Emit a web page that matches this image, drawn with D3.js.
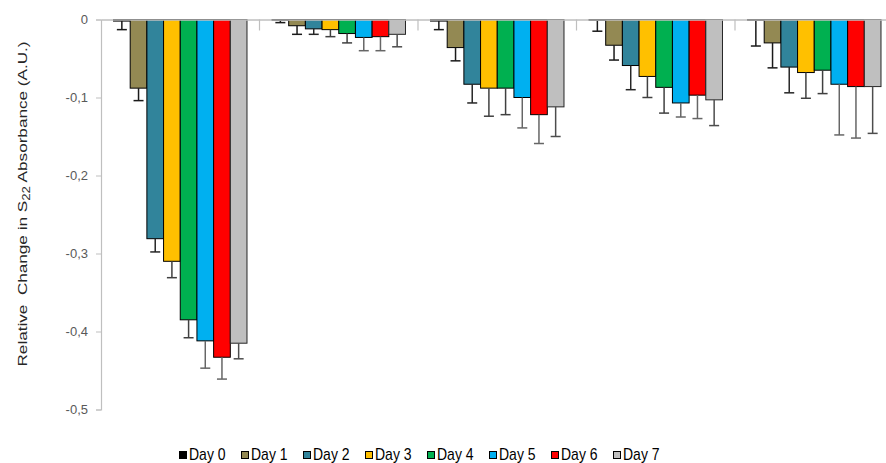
<!DOCTYPE html>
<html>
<head>
<meta charset="utf-8">
<script src="https://cdn.jsdelivr.net/npm/d3@7"></script>
<style>
  html, body { margin: 0; padding: 0; background: #fff; }
  svg { display: block; font-family: "Liberation Sans", Arial, sans-serif; }
</style>
</head>
<body>
<svg id="chart" width="886" height="463"></svg>
<script>
// Sample groups (unlabelled on the axis) and measurement days
const groups = ["G1", "G2", "G3", "G4", "G5"];
const days = ["Day 0", "Day 1", "Day 2", "Day 3", "Day 4", "Day 5", "Day 6", "Day 7"];
const dayColors = ["#000000", "#938953", "#31849B", "#FFC000", "#00B050", "#00B0F0", "#FF0000", "#BFBFBF"];

// Mean relative change per group, one array per day
const day0 = [-0.002, -0.001, -0.002, -0.001, -0.001];
const day1 = [-0.088, -0.008, -0.036, -0.033, -0.030];
const day2 = [-0.281, -0.012, -0.083, -0.059, -0.061];
const day3 = [-0.310, -0.013, -0.088, -0.073, -0.068];
const day4 = [-0.385, -0.018, -0.088, -0.087, -0.065];
const day5 = [-0.412, -0.023, -0.100, -0.107, -0.083];
const day6 = [-0.433, -0.022, -0.122, -0.097, -0.086];
const day7 = [-0.415, -0.019, -0.112, -0.103, -0.086];

// Standard deviation per group, one array per day
const err0 = [0.011, 0.003, 0.011, 0.014, 0.033];
const err1 = [0.016, 0.011, 0.017, 0.019, 0.032];
const err2 = [0.017, 0.007, 0.024, 0.031, 0.033];
const err3 = [0.021, 0.009, 0.036, 0.027, 0.033];
const err4 = [0.023, 0.012, 0.034, 0.033, 0.030];
const err5 = [0.035, 0.017, 0.039, 0.018, 0.065];
const err6 = [0.028, 0.018, 0.037, 0.030, 0.066];
const err7 = [0.020, 0.016, 0.038, 0.033, 0.060];

const yTicks = [0, -0.1, -0.2, -0.3, -0.4, -0.5];

const means = [day0, day1, day2, day3, day4, day5, day6, day7];
const errs = [err0, err1, err2, err3, err4, err5, err6, err7];

const svg = d3.select("#chart");
const plot = { left: 101, right: 893.5, top: 19.5, bottom: 409.5 };

const y = d3.scaleLinear().domain([0, -0.5]).range([plot.top, plot.bottom]);
const x0 = d3.scaleBand().domain(groups).range([plot.left, plot.right]).paddingInner(0).paddingOuter(0);
const x1 = d3.scaleBand().domain(days)
  .range([0, x0.bandwidth()])
  .paddingInner(0)
  .paddingOuter(0.75);

const fmt = v => v === 0 ? "0" : d3.format(".1f")(v).replace(".", ",").replace("−", "-");

// Bars
const rows = [];
groups.forEach((g, gi) => {
  days.forEach((d, di) => {
    rows.push({ g, d, di, v: means[di][gi], e: errs[di][gi] });
  });
});

const barG = svg.append("g");
barG.selectAll("rect").data(rows).enter().append("rect")
  .attr("x", r => x0(r.g) + x1(r.d))
  .attr("y", r => y(0))
  .attr("width", x1.bandwidth())
  .attr("height", r => Math.max(0, y(r.v) - y(0)))
  .attr("fill", r => dayColors[r.di])
  .attr("stroke", r => r.di === 7 ? "#262626" : "#000")
  .attr("stroke-width", 1);

// Error bars (downward only)
const errColors = ["#1a1a1a", "#1a1a1a", "#262626", "#404040", "#404040", "#666666", "#666666", "#4d4d4d"];
const errG = svg.append("g").attr("stroke-width", 1.5);
rows.forEach(r => {
  const cx = x0(r.g) + x1(r.d) + x1.bandwidth() / 2;
  const yb = y(r.v), ye = y(r.v - r.e);
  errG.append("line").attr("x1", cx).attr("x2", cx).attr("y1", yb).attr("y2", ye)
    .attr("stroke", errColors[r.di]);
  errG.append("line").attr("x1", cx - 5).attr("x2", cx + 5).attr("y1", ye).attr("y2", ye)
    .attr("stroke", errColors[r.di]);
});

// Y axis
const yAxis = d3.axisLeft(y).tickValues(yTicks).tickFormat(fmt).tickSize(5).tickPadding(8);
const yg = svg.append("g").attr("transform", `translate(${plot.left},0)`).call(yAxis);
yg.select(".domain").attr("stroke", "#BFBFBF").attr("stroke-width", 1.2);
yg.selectAll(".tick line").attr("stroke", "#BFBFBF");
yg.selectAll(".tick text").attr("fill", "#595959").style("font-size", "13px")
  .style("font-family", "'Liberation Sans', Arial, sans-serif");

// Category axis along zero
const xAxis = d3.axisBottom(x0).tickValues([]).tickSizeOuter(0);
const xg = svg.append("g").attr("transform", `translate(0,${y(0)})`).call(xAxis);
xg.select(".domain").attr("stroke", "#BFBFBF").attr("stroke-width", 1.5);
const boundaries = groups.slice(1).map(g => x0(g)).concat([plot.right]);
xg.selectAll("line.sep").data(boundaries).enter().append("line")
  .attr("class", "sep")
  .attr("x1", d => d).attr("x2", d => d)
  .attr("y1", 0).attr("y2", 11)
  .attr("stroke", "#BFBFBF").attr("stroke-width", 1.2);

// Y axis title
const title = svg.append("text")
  .attr("transform", "translate(26.5,204) rotate(-90)")
  .attr("text-anchor", "middle")
  .attr("fill", "#262626")
  .style("font-size", "13px")
  .attr("textLength", 325)
  .attr("lengthAdjust", "spacingAndGlyphs")
  .attr("xml:space", "preserve");
title.append("tspan").text("Relative  Change in S");
title.append("tspan").attr("dy", 3).style("font-size", "10px").text("22");
title.append("tspan").attr("dy", -3).text(" Absorbance (A.U.)");

// Legend
const legend = svg.append("g").attr("transform", "translate(179,451)");
const step = 62;
days.forEach((d, i) => {
  const item = legend.append("g").attr("transform", `translate(${i * step},0)`);
  item.append("rect").attr("x", 0.5).attr("y", 0.5).attr("width", 7).attr("height", 7)
    .attr("fill", dayColors[i]).attr("stroke", "#000").attr("stroke-width", 1);
  item.append("text")
    .attr("transform", "translate(10,8.8) scale(1,1.15)")
    .attr("fill", "#000").style("font-size", "14px").text(d);
});
</script>
</body>
</html>
